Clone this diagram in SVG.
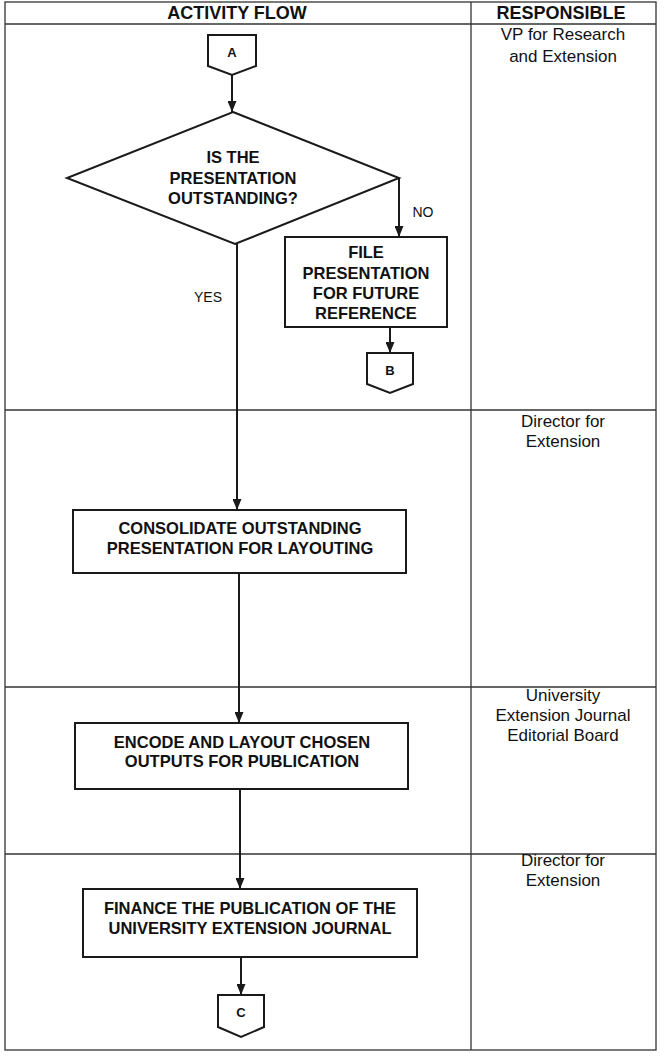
<svg xmlns="http://www.w3.org/2000/svg" width="665" height="1058" viewBox="0 0 665 1058">
<defs>
<style>
.bg{fill:#ffffff}
.grid{stroke:#333;stroke-width:1.3;fill:none}
.box{fill:#fff;stroke:#1a1a1a;stroke-width:2}
.conn{fill:none;stroke:#1a1a1a;stroke-width:2}
.hdr{font-family:"Liberation Sans",Arial,sans-serif;font-weight:bold;font-size:18px;fill:#111;text-anchor:middle}
.lbl{font-family:"Liberation Sans",Arial,sans-serif;font-weight:bold;font-size:16.5px;fill:#111;text-anchor:middle}
.ltr{font-family:"Liberation Sans",Arial,sans-serif;font-weight:bold;font-size:13px;fill:#111;text-anchor:middle}
.resp{font-family:"Liberation Sans",Arial,sans-serif;font-size:17px;fill:#111;text-anchor:middle}
.edge{font-family:"Liberation Sans",Arial,sans-serif;font-size:14px;fill:#111;text-anchor:middle}
</style>
<marker id="arr" viewBox="0 0 11 9" refX="11" refY="4.5" markerWidth="11" markerHeight="9" markerUnits="userSpaceOnUse" orient="auto">
<path d="M0,0 L11,4.5 L0,9 z" fill="#1a1a1a"/>
</marker>
</defs>
<rect class="bg" x="0" y="0" width="665" height="1058"/>
<g id="table">
<rect class="grid" x="5" y="2" width="651" height="1048"/>
<line class="grid" x1="471" y1="2" x2="471" y2="1050"/>
<line class="grid" x1="5" y1="24" x2="656" y2="24"/>
<line class="grid" x1="5" y1="410" x2="656" y2="410"/>
<line class="grid" x1="5" y1="687" x2="656" y2="687"/>
<line class="grid" x1="5" y1="854" x2="656" y2="854"/>
<text class="hdr" x="237" y="19">ACTIVITY FLOW</text>
<text class="hdr" x="561" y="19">RESPONSIBLE</text>
</g>
<g id="resp1"><text class="resp" x="563" y="40">VP for Research</text><text class="resp" x="563" y="62">and Extension</text></g>
<g id="resp2"><text class="resp" x="563" y="427">Director for</text><text class="resp" x="563" y="447">Extension</text></g>
<g id="resp3"><text class="resp" x="563" y="701">University</text><text class="resp" x="563" y="721">Extension Journal</text><text class="resp" x="563" y="741">Editorial Board</text></g>
<g id="resp4"><text class="resp" x="563" y="866">Director for</text><text class="resp" x="563" y="886">Extension</text></g>
<g id="connA"><path class="box" d="M208,35 H256 V66 L232,75 L208,66 Z"/><text class="ltr" x="232" y="57">A</text></g>
<g id="decision"><path class="box" d="M233,112 L399,178 L235,244 L67,178 Z"/>
<text class="lbl" x="233" y="163">IS THE</text><text class="lbl" x="233" y="184">PRESENTATION</text><text class="lbl" x="233" y="204">OUTSTANDING?</text></g>
<g id="file"><rect class="box" x="285" y="237" width="162" height="90"/>
<text class="lbl" x="366" y="258">FILE</text><text class="lbl" x="366" y="279">PRESENTATION</text><text class="lbl" x="366" y="299">FOR FUTURE</text><text class="lbl" x="366" y="319">REFERENCE</text></g>
<g id="connB"><path class="box" d="M367,353 H413 V384 L390,393 L367,384 Z"/><text class="ltr" x="390" y="375">B</text></g>
<g id="consolidate"><rect class="box" x="73" y="510" width="333" height="63"/>
<text class="lbl" x="240" y="534">CONSOLIDATE OUTSTANDING</text><text class="lbl" x="240" y="554">PRESENTATION FOR LAYOUTING</text></g>
<g id="encode"><rect class="box" x="75" y="723" width="333" height="66"/>
<text class="lbl" x="242" y="748">ENCODE AND LAYOUT CHOSEN</text><text class="lbl" x="242" y="767">OUTPUTS FOR PUBLICATION</text></g>
<g id="finance"><rect class="box" x="83" y="889" width="334" height="68"/>
<text class="lbl" x="250" y="914">FINANCE THE PUBLICATION OF THE</text><text class="lbl" x="250" y="934">UNIVERSITY EXTENSION JOURNAL</text></g>
<g id="connC"><path class="box" d="M218,995 H264 V1027 L241,1037 L218,1027 Z"/><text class="ltr" x="241" y="1017">C</text></g>
<g id="connectors">
<line class="conn" x1="232" y1="75" x2="232" y2="112" marker-end="url(#arr)"/>
<line class="conn" x1="399" y1="178" x2="399" y2="237" marker-end="url(#arr)"/>
<line class="conn" x1="390" y1="327" x2="390" y2="353" marker-end="url(#arr)"/>
<line class="conn" x1="237" y1="243" x2="237" y2="510" marker-end="url(#arr)"/>
<line class="conn" x1="239" y1="573" x2="239" y2="723" marker-end="url(#arr)"/>
<line class="conn" x1="240" y1="789" x2="240" y2="889" marker-end="url(#arr)"/>
<line class="conn" x1="241" y1="957" x2="241" y2="995" marker-end="url(#arr)"/>
<text class="edge" x="423" y="217">NO</text>
<text class="edge" x="208" y="302">YES</text>
</g>
</svg>
